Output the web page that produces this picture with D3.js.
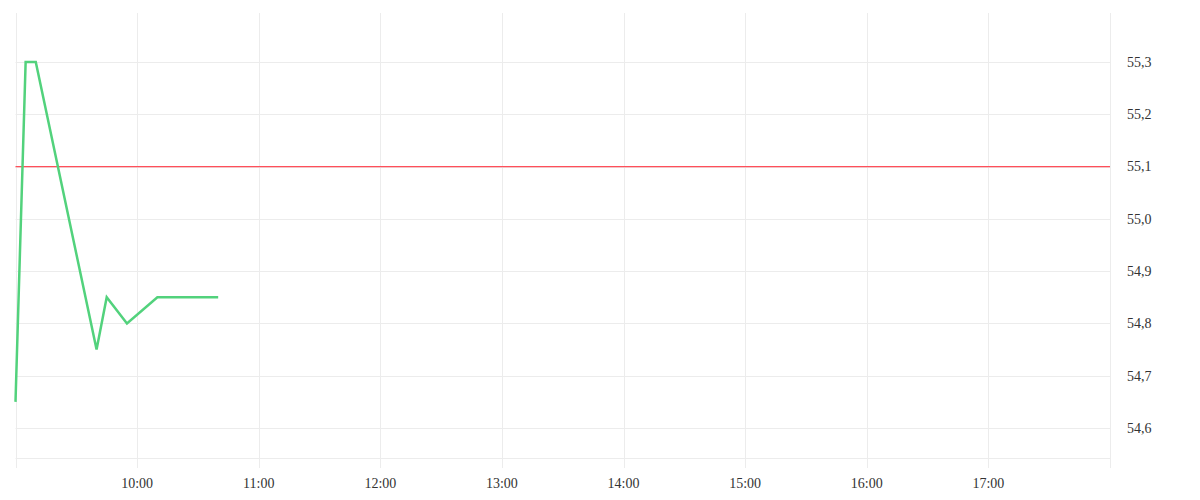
<!DOCTYPE html>
<html>
<head>
<meta charset="utf-8">
<script src="https://cdn.jsdelivr.net/npm/d3@7"></script>
<style>
  body { margin: 0; background: #fff; }
  svg { display: block; }
</style>
</head>
<body>
<svg id="chart"></svg>
<script>
// price series (time as HH:MM, value)
var times = ['09:00', '09:05', '09:10', '09:40', '09:45', '09:55', '10:10', '10:40'];
var prices = [54.65, 55.3, 55.3, 54.75, 54.85, 54.8, 54.85, 54.85];
var refPrice = 55.1;
var yTicks = [54.6, 54.7, 54.8, 54.9, 55.0, 55.1, 55.2, 55.3];
var xTickLabels = ['10:00', '11:00', '12:00', '13:00', '14:00', '15:00', '16:00', '17:00'];
var dayStart = '09:00', dayEnd = '18:00';
var yDomain = [54.5426, 55.3937];

var width = 1200, height = 500;
var margin = {top: 13, right: 90, bottom: 42, left: 15.5};
var parse = d3.timeParse('%H:%M');

var svg = d3.select('#chart').attr('width', width).attr('height', height);

var x = d3.scaleTime()
    .domain([parse(dayStart), parse(dayEnd)])
    .range([margin.left, width - margin.right]);
var y = d3.scaleLinear()
    .domain(yDomain)
    .range([height - margin.bottom, margin.top]);

var fmtY = function(v) { return v.toFixed(1).replace('.', ','); };
var gridColor = '#ececec';
var labelFont = 'Liberation Serif, serif';

// horizontal grid
svg.append('g').selectAll('line')
    .data(yTicks)
    .enter().append('line')
    .attr('x1', x.range()[0]).attr('x2', x.range()[1])
    .attr('y1', function(d) { return Math.round(y(d)) + 0.5; })
    .attr('y2', function(d) { return Math.round(y(d)) + 0.5; })
    .attr('stroke', gridColor);

// bottom line
svg.append('line')
    .attr('x1', x.range()[0]).attr('x2', x.range()[1])
    .attr('y1', y.range()[0] + 0.5).attr('y2', y.range()[0] + 0.5)
    .attr('stroke', gridColor);

// vertical grid incl. borders, extending as ticks below
var vTimes = [dayStart].concat(xTickLabels, [dayEnd]).map(parse);
svg.append('g').selectAll('line')
    .data(vTimes)
    .enter().append('line')
    .attr('x1', function(d) { return Math.round(x(d)) + 0.5; })
    .attr('x2', function(d) { return Math.round(x(d)) + 0.5; })
    .attr('y1', margin.top)
    .attr('y2', y.range()[0] + 10)
    .attr('stroke', gridColor);

// x labels
svg.append('g').selectAll('text')
    .data(xTickLabels)
    .enter().append('text')
    .attr('x', function(d) { return x(parse(d)); })
    .attr('y', 488)
    .attr('text-anchor', 'middle')
    .attr('font-family', labelFont)
    .attr('font-size', 14)
    .attr('fill', '#333')
    .text(function(d) { return d; });

// y labels on the right
svg.append('g').selectAll('text')
    .data(yTicks)
    .enter().append('text')
    .attr('x', x.range()[1] + 17)
    .attr('y', function(d) { return y(d); })
    .attr('dy', '0.35em')
    .attr('font-family', labelFont)
    .attr('font-size', 14)
    .attr('fill', '#333')
    .text(fmtY);

// reference line
svg.append('line')
    .attr('x1', x.range()[0]).attr('x2', x.range()[1])
    .attr('y1', y(refPrice)).attr('y2', y(refPrice))
    .attr('stroke', '#ff4f5a')
    .attr('stroke-width', 1.2);

// price line
var line = d3.line()
    .x(function(d, i) { return x(parse(times[i])); })
    .y(function(d) { return y(d); });

svg.append('path')
    .datum(prices)
    .attr('d', line)
    .attr('fill', 'none')
    .attr('stroke', '#52d27c')
    .attr('stroke-width', 2.5)
    .attr('stroke-linejoin', 'miter');
</script>
</body>
</html>
